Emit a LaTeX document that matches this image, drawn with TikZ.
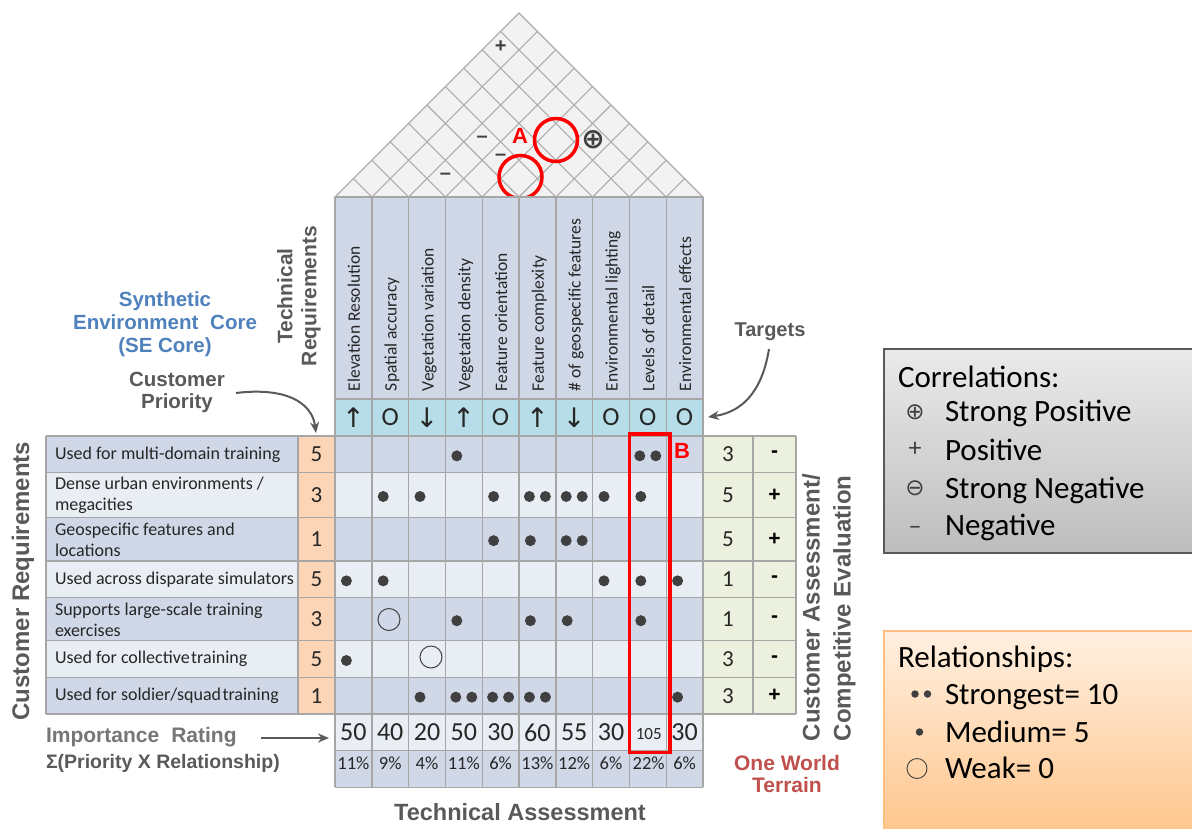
\documentclass[tikz,border=0pt]{standalone}
\usepackage{fontspec}
\setmainfont{Carlito}
\newfontfamily\headfont{Liberation Sans}
\newfontfamily\glyphfont{DejaVu Sans}
\usetikzlibrary{arrows.meta}

\definecolor{cellDark}{HTML}{D0D8E8}
\definecolor{cellLight}{HTML}{E9EDF4}
\definecolor{targetFill}{HTML}{B7DEE8}
\definecolor{prioFill}{HTML}{FBD5B5}
\definecolor{evalFill}{HTML}{EBF1DE}
\definecolor{gridLine}{HTML}{A6A6A6}
\definecolor{roofFill}{HTML}{F2F2F2}
\definecolor{roofLine}{HTML}{ACACAC}
\definecolor{dotInk}{HTML}{404040}
\definecolor{labelGray}{HTML}{595959}
\definecolor{softGray}{HTML}{767676}
\definecolor{coreBlue}{HTML}{4F81BD}
\definecolor{owtRed}{HTML}{C0504D}
\definecolor{markRed}{HTML}{FF0000}
\definecolor{textInk}{HTML}{262626}

\newcommand\fsz[2]{\fontsize{#1}{#2}\selectfont}
% vertical centre of body row #1 -> \yc
\newcommand\rowmid[1]{%
  \pgfmathsetmacro\ya{\rowb[#1-1]}%
  \pgfmathsetmacro\yb{\rowb[#1]}%
  \pgfmathsetmacro\yc{(\ya+\yb)/2}}

\begin{document}
\begin{tikzpicture}[x=1pt,y=-1pt,
  every node/.style={inner sep=0pt, outer sep=0pt},
  gridpen/.style={draw=gridLine, line width=1.4pt},
  roofpen/.style={draw=roofLine, line width=1.1pt},
  reqtext/.style={anchor=west, align=left, text=textInk, font=\fsz{18}{21}},
  hdrtext/.style={rotate=90, anchor=base west, text=textInk, font=\fsz{17.5}{20}},
  bignum/.style={text=textInk, font=\fsz{23}{26}},
  impnum/.style={text=textInk, font=\fsz{26}{28}},
  pctnum/.style={text=textInk, font=\fsz{18.5}{20}},
  tgtsym/.style={text=textInk, font=\fsz{26}{28}},
  tgtarrow/.style={text=textInk, font=\glyphfont\fsz{27}{28}},
  corrsym/.style={text=dotInk, font=\headfont\bfseries\fsz{20}{22}},
  graylabel/.style={text=labelGray, align=center, font=\headfont\bfseries\fsz{20.5}{23}},
  reldot/.style={circle, fill=dotInk, minimum size=11pt},
  weakring/.style={circle, draw=dotInk, line width=1pt, minimum size=22pt},
  callout/.style={draw=labelGray, line width=2pt, -{Stealth[length=11pt,width=9pt]}},
  redmark/.style={draw=markRed, line width=3.5pt},
  legendtext/.style={anchor=base west, text=black, font=\fsz{31}{33}},
]
\useasboundingbox (0,0) rectangle (1192,828);

\def\rowb{{436,472.7,517.3,561,597.7,640.7,677.3,714,750.7,787.3}}

% ---------- roof (correlation matrix) ----------
\filldraw[fill=roofFill, roofpen] (335,197) -- (519,13) -- (703,197) -- cycle;
\foreach \k in {1,...,9} {
  \pgfmathsetmacro\bx{335+36.8*\k}
  \pgfmathsetmacro\tr{(703-\bx)/2}
  \pgfmathsetmacro\tl{(\bx-335)/2}
  \draw[roofpen] (\bx,197) -- ++(\tr,-\tr);
  \draw[roofpen] (\bx,197) -- ++(-\tl,-\tl);
}
\node[corrsym] (c19) at (500.6,47) {+};
\node[corrsym] (c36) at (482.2,139) {–};
\node[corrsym] (c46) at (500.6,157) {–};
\node[corrsym] (c34) at (445.4,176) {–};
\node[text=dotInk, font=\glyphfont\bfseries\fsz{28}{30}] (c69) at (593,140) {⊕};
\node[text=markRed, font=\headfont\bfseries\fsz{22}{24}] (markA) at (520,136) {A};
\node[circle, redmark, minimum size=43pt] (ringA1) at (556,140) {};
\node[circle, redmark, minimum size=43pt] (ringA2) at (520.5,177) {};

% ---------- header and target rows ----------
\fill[cellDark] (335,197) rectangle (703,399);
\fill[targetFill] (335,399) rectangle (703,436);

% ---------- body rows ----------
\foreach \r in {1,...,7} {
  \rowmid{\r}
  \pgfmathtruncatemacro\odd{mod(\r,2)}
  \ifnum\odd=1 \def\bandcol{cellDark}\else\def\bandcol{cellLight}\fi
  \fill[\bandcol] (46,\ya) rectangle (703,\yb);
}
\fill[prioFill] (298,436) rectangle (335,714);
\fill[evalFill] (703,436) rectangle (796,714);
\fill[cellLight] (335,714) rectangle (703,750.7);
\fill[cellDark] (335,750.7) rectangle (703,787.3);

% ---------- grid lines ----------
\foreach \k in {0,...,10} {
  \pgfmathsetmacro\bx{335+36.8*\k}
  \draw[gridpen] (\bx,197) -- (\bx,787.3);
}
\draw[gridpen] (335,197) -- (703,197);
\draw[gridpen] (335,399) -- (703,399);
\foreach \r in {0,...,7} {
  \pgfmathsetmacro\yy{\rowb[\r]}
  \draw[gridpen] (46,\yy) -- (796,\yy);
}
\draw[gridpen] (335,750.7) -- (703,750.7);
\draw[gridpen] (335,787.3) -- (703,787.3);
\draw[gridpen] (46,436) -- (46,714);
\draw[gridpen] (298,436) -- (298,714);
\draw[gridpen] (753,436) -- (753,714);
\draw[gridpen] (796,436) -- (796,714);

% ---------- technical requirement headers ----------
\foreach \k/\txt in {1/Elevation Resolution, 2/Spatial accuracy, 3/Vegetation variation,
  4/Vegetation density, 5/Feature orientation, 6/Feature complexity,
  7/\# of geospecific features, 8/Environmental lighting, 9/Levels of detail,
  10/Environmental effects} {
  \pgfmathsetmacro\xc{335+36.8*(\k-0.5)}
  \node[hdrtext] (tr\k) at (\xc+6.5,391) {\txt};
}

% ---------- targets ----------
\foreach \k/\sym/\sty in {1/↑/tgtarrow, 2/O/tgtsym, 3/↓/tgtarrow, 4/↑/tgtarrow, 5/O/tgtsym,
  6/↑/tgtarrow, 7/↓/tgtarrow, 8/O/tgtsym, 9/O/tgtsym, 10/O/tgtsym} {
  \pgfmathsetmacro\xc{335+36.8*(\k-0.5)}
  \node[\sty] (tg\k) at (\xc,417.5) {\sym};
}

% ---------- customer requirements ----------
\node[reqtext] (cr1) at (55,454.4) {Used for multi-domain training};
\node[reqtext] (cr2) at (55,495.5) {Dense urban environments /\\megacities};
\node[reqtext] (cr3) at (55,539.7) {Geospecific features and\\locations};
\node[reqtext] (cr4) at (55,579.4) {Used across disparate simulators};
\node[reqtext] (cr5) at (55,619.7) {Supports large-scale training\\exercises};
\node[reqtext] (cr6) at (55,659) {Used for collective\hspace{0.08em}training};
\node[reqtext] (cr7) at (55,695.7) {Used for soldier/squad\hspace{0.08em}training};

% priorities and customer assessment
\foreach \r/\p/\v/\s in {1/5/3/-, 2/3/5/+, 3/1/5/+, 4/5/1/-, 5/3/1/-, 6/5/3/-, 7/1/3/+} {
  \rowmid{\r}
  \node[bignum] (pr\r) at (316.5,\yc) {\p};
  \node[bignum] (ca\r) at (728,\yc) {\v};
  \node[text=black, font=\headfont\bfseries\fsz{21}{22}] (ce\r) at (774.5,\yc) {\s};
}

% ---------- relationship matrix ----------
\foreach \r/\c in {1/4, 2/2, 2/3, 2/5, 2/8, 2/9, 3/5, 3/6, 4/1, 4/2, 4/8, 4/9, 4/10,
  5/4, 5/6, 5/7, 5/9, 6/1, 7/3, 7/10} {
  \rowmid{\r}
  \pgfmathsetmacro\xc{335+36.8*(\c-0.5)}
  \node[reldot] (m\r-\c) at (\xc-7,\yc+1.5) {};
}
\foreach \r/\c in {1/9, 2/6, 2/7, 3/7, 7/4, 7/5, 7/6} {
  \rowmid{\r}
  \pgfmathsetmacro\xc{335+36.8*(\c-0.5)}
  \node[reldot] (m\r-\c a) at (\xc-8,\yc+1.5) {};
  \node[reldot] (m\r-\c b) at (\xc+8,\yc+1.5) {};
}
\node[weakring] (w5-2) at (389,619.5) {};
\node[weakring] (w6-3) at (431,657) {};

% ---------- importance ratings ----------
\foreach \k/\v/\q in {1/50/11\%, 2/40/9\%, 3/20/4\%, 4/50/11\%, 5/30/6\%, 6/60/13\%,
  7/55/12\%, 8/30/6\%, 10/30/6\%} {
  \pgfmathsetmacro\xc{335+36.8*(\k-0.5)}
  \node[impnum] (ir\k) at (\xc,732.5) {\v};
  \node[pctnum] (ip\k) at (\xc,763.5) {\q};
}
\node[text=textInk, font=\fsz{17}{20}] (ir9) at (648.7,734) {105};
\node[pctnum] (ip9) at (648.7,763.5) {22\%};

% red column highlight
\draw[redmark] (629.5,434) rectangle (670,752.5);
\node[text=markRed, font=\headfont\bfseries\fsz{22}{24}] (markB) at (682,451) {B};

% ---------- labels ----------
\node[graylabel, rotate=90, font=\headfont\bfseries\fsz{21}{24}] (techreq) at (299,296) {Technical\\Requirements};
\node[graylabel, text=coreBlue] (secore) at (165,324) {Synthetic\\Environment\hspace{0.3em} Core\\(SE Core)};
\node[graylabel, font=\headfont\bfseries\fsz{20.5}{22}] (cprio) at (177,392) {Customer\\Priority};
\node[graylabel, font=\headfont\bfseries\fsz{20}{22}] (targets) at (770,332) {Targets};
\node[graylabel, rotate=90, font=\headfont\bfseries\fsz{24}{26}] (custreq) at (23,581) {Customer Requirements};
\node[graylabel, rotate=90, anchor=west, align=left, font=\headfont\bfseries\fsz{24}{31}] (custeval) at (829,741) {Customer Assessment/\\Competitive Evaluation};
\node[graylabel, text=owtRed, font=\headfont\bfseries\fsz{21}{22}] (owt) at (787,774) {One World\\Terrain};
\node[graylabel, font=\headfont\bfseries\fsz{23.5}{26}] (techassess) at (520,812) {Technical Assessment};
\node[anchor=west, text=softGray, font=\headfont\bfseries\fsz{21}{24}] (imprating) at (46,737) {Importance\hspace{0.3em} Rating};
\node[anchor=west, text=labelGray, font=\headfont\bfseries\fsz{19.5}{22}] (sigma) at (46,763) {Σ(Priority X Relationship)};

% callout arrows
\coordinate (cpFrom) at (236,393);
\coordinate (cpTo) at (316,433);
\draw[callout] (cpFrom) .. controls (285,387) and (312,402) .. (cpTo);
\coordinate (tgFrom) at (769,349);
\coordinate (tgTo) at (708,417);
\draw[callout] (tgFrom) .. controls (762,392) and (742,412) .. (tgTo);
\coordinate (irFrom) at (261,738);
\coordinate (irTo) at (329,738);
\draw[callout] (irFrom) -- (irTo);

% ---------- legends ----------
\shade[top color=white!92!black, bottom color=white!74!black] (884,349) rectangle (1200,553);
\draw[draw=labelGray, line width=1.5pt] (884,349) rectangle (1200,553);
\node[legendtext] (lgC) at (898,387) {Correlations:};
\node[text=dotInk, font=\glyphfont\fsz{23}{24}] (lgC1s) at (915,412) {⊕};
\node[legendtext] (lgC1) at (945,421.5) {Strong Positive};
\node[text=dotInk, font=\fsz{26}{28}] (lgC2s) at (915,449) {+};
\node[legendtext] (lgC2) at (945,460) {Positive};
\node[text=dotInk, font=\glyphfont\fsz{23}{24}] (lgC3s) at (915,488) {⊖};
\node[legendtext] (lgC3) at (945,498) {Strong Negative};
\node[text=dotInk, font=\fsz{26}{28}] (lgC4s) at (915,530) {–};
\node[legendtext] (lgC4) at (945,535) {Negative};

\shade[top color=orange!12!white, bottom color=orange!45!white] (884,631) rectangle (1200,835);
\draw[draw=orange!50!white, line width=1.5pt] (884,631) rectangle (1200,835);
\node[legendtext] (lgR) at (898,667) {Relationships:};
\node[circle, fill=dotInk, minimum size=7.5pt] (lgR1a) at (915,694) {};
\node[circle, fill=dotInk, minimum size=7.5pt] (lgR1b) at (927.5,694) {};
\node[legendtext] (lgR1) at (945,704) {Strongest= 10};
\node[circle, fill=dotInk, minimum size=7.5pt] (lgR2s) at (919.5,732) {};
\node[legendtext] (lgR2) at (945,742) {Medium= 5};
\node[circle, draw=dotInk, line width=0.9pt, minimum size=20pt] (lgR3s) at (917,768.5) {};
\node[legendtext] (lgR3) at (945,778.5) {Weak= 0};
\end{tikzpicture}
\end{document}
